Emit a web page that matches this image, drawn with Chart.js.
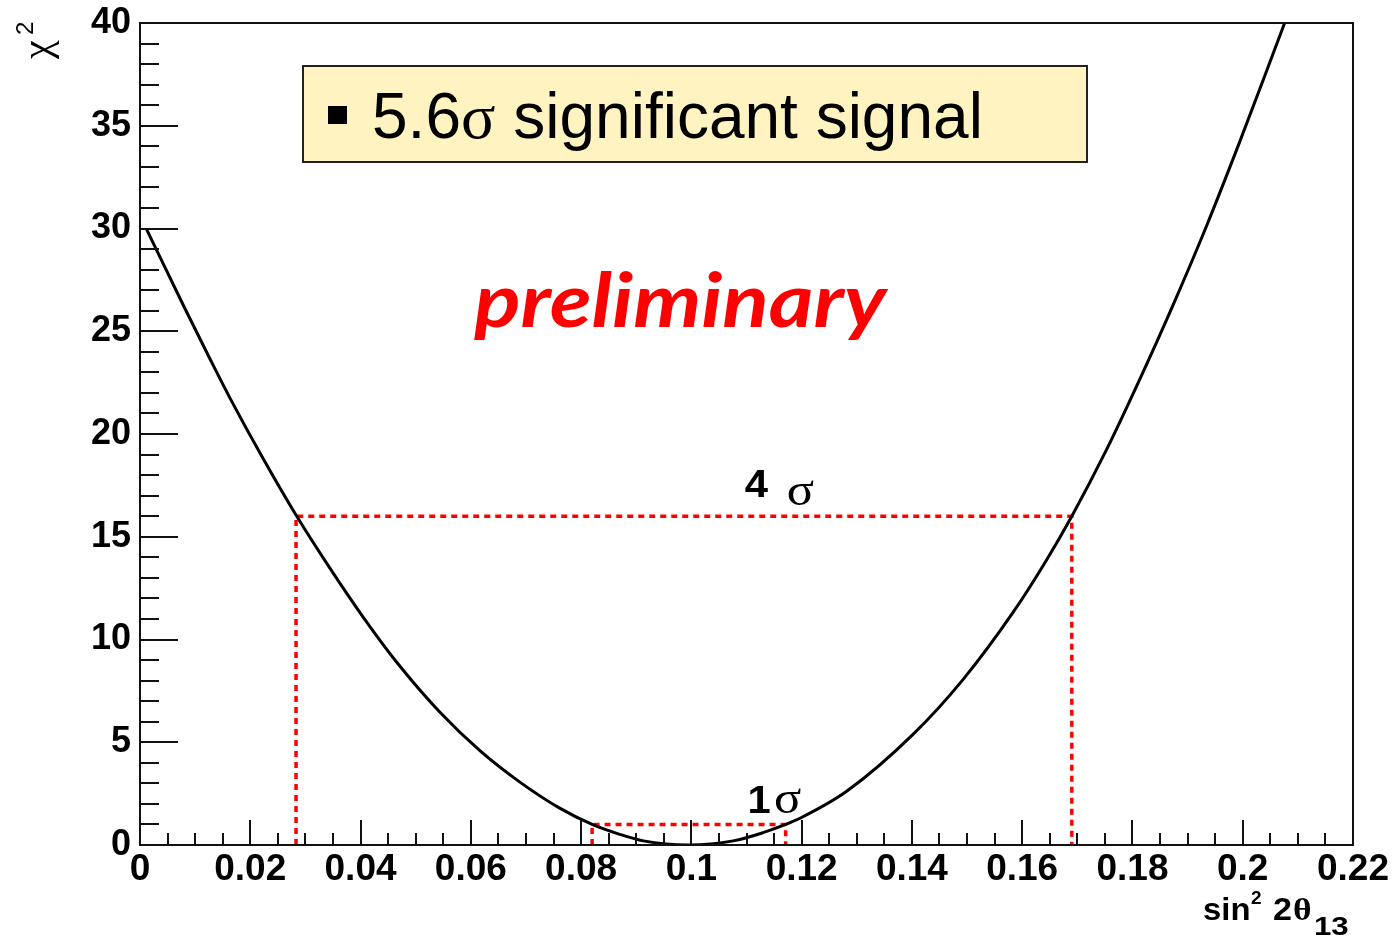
<!DOCTYPE html>
<html><head><meta charset="utf-8">
<script src="https://cdn.jsdelivr.net/npm/chart.js@4.4.1/dist/chart.umd.min.js"></script>
<style>html,body{margin:0;padding:0;background:#fff;overflow:hidden}#wrap{width:1393px;height:936px;position:relative}canvas{display:block}</style>
</head><body><div id="wrap"><canvas id="c" width="1393" height="936"></canvas></div>
<script>
// ---- data ----
const curveX    = [0.0012, 0.0079, 0.0127, 0.0163, 0.0224, 0.0284, 0.0345, 0.0405, 0.0466, 0.0544, 0.0617, 0.0689, 0.0762, 0.0820, 0.0870, 0.0913, 0.0995, 0.1076, 0.1130, 0.1171, 0.1197, 0.1281, 0.1402, 0.1493, 0.1584, 0.1644, 0.1690, 0.1753, 0.1813, 0.1874, 0.1934, 0.1995, 0.2055, 0.2076];
const curveChi2 = [29.96, 26.24, 23.65, 21.76, 18.77, 16.01, 13.45, 11.08, 8.88, 6.46, 4.58, 3.06, 1.78, 1.00, 0.52, 0.20, 0.0, 0.20, 0.60, 1.0, 1.30, 2.60, 5.38, 8.06, 11.34, 13.86, 16.0, 19.24, 22.65, 26.3, 30.1, 34.25, 38.5, 40.0];
const sigma4X = [0.0283, 0.0283, 0.1690, 0.1690];
const sigma4Y = [0, 16, 16, 0];
const sigma1X = [0.0820, 0.0820, 0.1171, 0.1171];
const sigma1Y = [0, 1, 1, 0];
const xTicks = [0, 0.02, 0.04, 0.06, 0.08, 0.1, 0.12, 0.14, 0.16, 0.18, 0.2, 0.22];
const xTickLabels = ['0', '0.02', '0.04', '0.06', '0.08', '0.1', '0.12', '0.14', '0.16', '0.18', '0.2', '0.22'];
const yTicks = [0, 5, 10, 15, 20, 25, 30, 35, 40];
const yTickLabels = ['0', '5', '10', '15', '20', '25', '30', '35', '40'];
const legendText = ['5.6', 'σ', ' significant signal'];
const watermark = 'preliminary';
const label4 = ['4', 'σ'];
const label1 = ['1', 'σ'];

const toPts = (xs, ys) => xs.map((v, i) => ({x: v, y: ys[i]}));

// draw text stretched horizontally by sx, starting at (x, y); returns advance
function stretchText(ctx, txt, x, y, font, sx) {
  ctx.save();
  ctx.font = font;
  ctx.translate(x, y);
  ctx.scale(sx, 1);
  ctx.fillText(txt, 0, 0);
  const w = ctx.measureText(txt).width * sx;
  ctx.restore();
  return w;
}

const rootStyle = {
  id: 'rootStyle',
  afterDatasetsDraw(chart) {
    const {ctx, chartArea: a, scales: {x, y}} = chart;
    ctx.save();
    ctx.strokeStyle = '#111';
    ctx.lineWidth = 2;
    ctx.strokeRect(a.left, a.top, a.right - a.left, a.bottom - a.top);
    ctx.beginPath();
    for (let v = 0; v <= 40; v += 1) {
      const py = Math.round(y.getPixelForValue(v));
      const len = v % 5 === 0 ? 38 : 19;
      ctx.moveTo(a.left, py); ctx.lineTo(a.left + len, py);
    }
    for (let i = 0; i <= 44; i++) {
      const px = Math.round(x.getPixelForValue(i * 0.005));
      const len = i % 4 === 0 ? 25 : 12;
      ctx.moveTo(px, a.bottom); ctx.lineTo(px, a.bottom - len);
    }
    ctx.stroke();
    ctx.restore();
  },
  afterDraw(chart) {
    const {ctx, scales: {x, y}} = chart;
    ctx.save();
    ctx.fillStyle = '#000';
    ctx.textBaseline = 'alphabetic';
    ctx.textAlign = 'left';

    // legend box
    ctx.fillStyle = '#fff4c1';
    ctx.fillRect(303, 66, 784, 96);
    ctx.strokeStyle = '#222';
    ctx.lineWidth = 2;
    ctx.strokeRect(303, 66, 784, 96);
    ctx.fillStyle = '#000';
    ctx.fillRect(328, 106, 19, 18);
    let tx = 372;
    tx += stretchText(ctx, legendText[0], tx, 138, '64px "Liberation Sans"', 1.0);
    tx += stretchText(ctx, legendText[1], tx, 138, '64px "Liberation Serif"', 1.0);
    stretchText(ctx, legendText[2], tx, 138, '64px "Liberation Sans"', 1.0);

    // preliminary
    ctx.fillStyle = '#ff0000';
    const pf = 'italic bold 74px "Lato"';
    ctx.font = pf;
    const w = ctx.measureText(watermark).width;
    stretchText(ctx, watermark, x.getPixelForValue(0.0606), y.getPixelForValue(25.2), pf, 412 / w);

    // sigma labels
    ctx.fillStyle = '#000';
    stretchText(ctx, label4[0], x.getPixelForValue(0.1097), y.getPixelForValue(16.92), 'bold 38px "Liberation Sans"', 1.1);
    stretchText(ctx, label4[1], x.getPixelForValue(0.1173), y.getPixelForValue(16.55), '46px "Liberation Serif"', 1.1);
    stretchText(ctx, label1[0], x.getPixelForValue(0.1102), y.getPixelForValue(1.55), 'bold 38px "Liberation Sans"', 1.1);
    stretchText(ctx, label1[1], x.getPixelForValue(0.1150), y.getPixelForValue(1.55), '46px "Liberation Serif"', 1.1);

    // x axis title: sin^2 2θ_13
    stretchText(ctx, 'sin', 1203, 920, 'bold 31px "Liberation Sans"', 1.06);
    stretchText(ctx, '2', 1251, 904, 'bold 19px "Liberation Sans"', 1.0);
    stretchText(ctx, '2', 1273, 920, 'bold 31px "Liberation Sans"', 1.1);
    stretchText(ctx, 'θ', 1293, 920, 'bold 31px "Liberation Serif"', 1.15);
    stretchText(ctx, '13', 1314, 935, 'bold 26px "Liberation Sans"', 1.2);

    // y axis title: χ^2 (rotated)
    ctx.save();
    ctx.translate(50, 59);
    ctx.rotate(-Math.PI / 2);
    ctx.font = '42px "Liberation Serif"';
    ctx.fillText('χ', 0, 0);
    ctx.restore();
    ctx.save();
    ctx.translate(33, 35);
    ctx.rotate(-Math.PI / 2);
    ctx.font = '24px "Liberation Sans"';
    ctx.fillText('2', 0, 0);
    ctx.restore();

    ctx.restore();
  }
};

const tickFont = {family: '"Liberation Sans", Arial, sans-serif', weight: 'bold', size: 37};
const yTickFont = {family: '"Liberation Sans", Arial, sans-serif', weight: 'bold', size: 36, lineHeight: 0.7};

new Chart(document.getElementById('c'), {
  type: 'scatter',
  data: {
    datasets: [
      {data: toPts(curveX, curveChi2), showLine: true, borderColor: '#000', borderWidth: 3, pointRadius: 0, cubicInterpolationMode: 'monotone', order: 1},
      {data: toPts(sigma4X, sigma4Y), showLine: true, borderColor: '#ff0000', borderWidth: 3.5, borderDash: [6, 5], pointRadius: 0, order: 2},
      {data: toPts(sigma1X, sigma1Y), showLine: true, borderColor: '#ff0000', borderWidth: 3.5, borderDash: [6, 5], pointRadius: 0, order: 2}
    ]
  },
  options: {
    responsive: false,
    animation: false,
    devicePixelRatio: 1,
    layout: {padding: {left: 0, top: 23, right: 40, bottom: 0}},
    plugins: {legend: {display: false}, tooltip: {enabled: false}},
    scales: {
      x: {
        type: 'linear', min: 0, max: 0.22,
        grid: {display: false, drawTicks: false}, border: {display: false},
        afterBuildTicks: s => { s.ticks = xTicks.map(v => ({value: v})); },
        afterFit: s => { s.height = 91; },
        ticks: {callback: (v, i) => xTickLabels[i], font: tickFont, color: '#000', padding: 3, maxRotation: 0, autoSkip: false}
      },
      y: {
        type: 'linear', min: 0, max: 40,
        grid: {display: false, drawTicks: false}, border: {display: false},
        afterBuildTicks: s => { s.ticks = yTicks.map(v => ({value: v})); },
        afterFit: s => { s.width = 140; },
        ticks: {callback: (v, i) => yTickLabels[i], font: yTickFont, color: '#000', padding: 9, autoSkip: false}
      }
    }
  },
  plugins: [rootStyle]
});
</script>
</body></html>
